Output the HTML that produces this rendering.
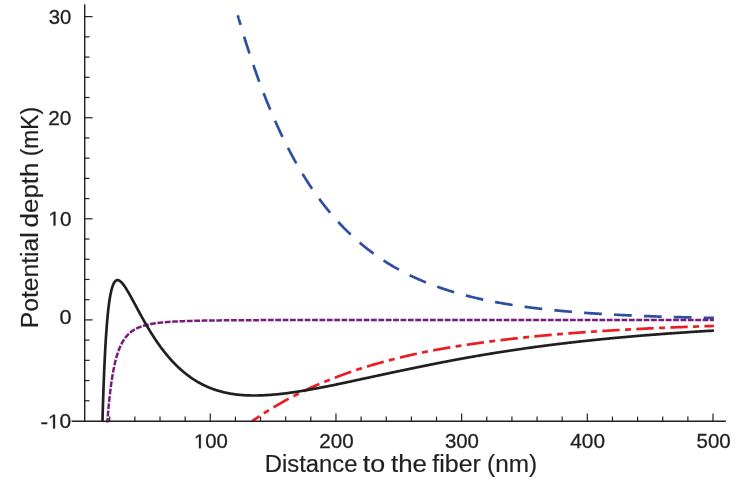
<!DOCTYPE html>
<html><head><meta charset="utf-8"><title>Potential depth</title>
<style>html,body{margin:0;padding:0;background:#fff;width:747px;height:479px;overflow:hidden}</style>
</head><body>
<svg width="747" height="479" viewBox="0 0 747 479" style="display:block;position:absolute;left:0;top:0">
<rect width="747" height="479" fill="#ffffff"/>
<g fill="none" stroke-linecap="butt" stroke-linejoin="round">
<path d="M237.81,15.42 L237.81,15.42 L237.82,15.44 L237.82,15.46 L237.83,15.49 L237.85,15.53 L237.86,15.58 L237.88,15.64 L237.90,15.71 L237.92,15.79 L237.94,15.88 L237.97,15.98 L238.00,16.08 L238.04,16.20 L238.07,16.32 L238.11,16.46 L238.15,16.60 L238.20,16.75 L238.24,16.91 L238.29,17.09 L238.34,17.27 L238.40,17.45 L238.45,17.65 L238.51,17.86 L238.58,18.07 L238.64,18.30 L238.71,18.53 L238.78,18.78 L238.85,19.03 L238.93,19.29 L239.01,19.56 L239.09,19.84 L239.17,20.13 L239.26,20.42 L239.35,20.73 L239.44,21.04 L239.53,21.36 L239.63,21.70 L239.73,22.04 L239.83,22.38 L239.94,22.74 L240.04,23.11 L240.15,23.48 L240.27,23.86 L240.38,24.26 L240.50,24.66 L240.62,25.06 L240.74,25.48 L240.87,25.91 L241.00,26.34 L241.13,26.78 L241.26,27.23 L241.40,27.69 L241.54,28.16 L241.68,28.63 L241.83,29.11 L241.97,29.60 L242.12,30.10 L242.28,30.61 L242.43,31.12 L242.59,31.64 L242.75,32.17 L242.91,32.71 L243.08,33.25 L243.25,33.81 L243.42,34.37 L243.59,34.94 L243.77,35.51 L243.95,36.09 L244.13,36.68 L244.31,37.28 L244.50,37.89 L244.69,38.50 L244.88,39.12 L245.08,39.74 L245.28,40.38 L245.48,41.02 L245.68,41.66 L245.88,42.32 L246.09,42.98 L246.30,43.65 L246.52,44.32 L246.73,45.00 L246.95,45.69 L247.17,46.38 L247.40,47.08 L247.63,47.79 L247.86,48.51 L248.09,49.23 L248.32,49.95 L248.56,50.68 L248.80,51.42 L249.04,52.17 L249.29,52.92 L249.54,53.67 L249.79,54.43 L250.04,55.20 L250.30,55.98 L250.56,56.75 L250.82,57.54 L251.08,58.33 L251.35,59.13 L251.62,59.93 L251.89,60.73 L252.16,61.55 L252.44,62.36 L252.72,63.18 L253.00,64.01 L253.29,64.84 L253.58,65.68 L253.87,66.52 L254.16,67.37 L254.46,68.22 L254.76,69.08 L255.06,69.94 L255.36,70.80 L255.67,71.67 L255.98,72.55 L256.29,73.42 L256.60,74.31 L256.92,75.19 L257.24,76.08 L257.56,76.98 L257.89,77.88 L258.21,78.78 L258.54,79.69 L258.88,80.60 L259.21,81.51 L259.55,82.43 L259.89,83.35 L260.24,84.27 L260.58,85.20 L260.93,86.13 L261.28,87.07 L261.64,88.00 L261.99,88.94 L262.35,89.89 L262.72,90.83 L263.08,91.78 L263.45,92.74 L263.82,93.69 L264.19,94.65 L264.57,95.61 L264.95,96.57 L265.33,97.54 L265.71,98.50 L266.10,99.47 L266.48,100.45 L266.88,101.42 L267.27,102.40 L267.67,103.38 L268.07,104.36 L268.47,105.34 L268.87,106.32 L269.28,107.31 L269.69,108.30 L270.10,109.29 L270.52,110.28 L270.94,111.27 L271.36,112.26 L271.78,113.26 L272.21,114.25 L272.63,115.25 L273.07,116.25 L273.50,117.25 L273.94,118.25 L274.38,119.25 L274.82,120.26 L275.26,121.26 L275.71,122.27 L276.16,123.27 L276.61,124.28 L277.07,125.28 L277.52,126.29 L277.98,127.30 L278.45,128.30 L278.91,129.31 L279.38,130.32 L279.85,131.33 L280.33,132.34 L280.80,133.35 L281.28,134.35 L281.76,135.36 L282.25,136.37 L282.74,137.38 L283.22,138.39 L283.72,139.39 L284.21,140.40 L284.71,141.41 L285.21,142.42 L285.71,143.42 L286.22,144.43 L286.73,145.43 L287.24,146.43 L287.75,147.44 L288.27,148.44 L288.79,149.44 L289.31,150.44 L289.83,151.44 L290.36,152.44 L290.89,153.44 L291.42,154.43 L291.95,155.43 L292.49,156.42 L293.03,157.41 L293.57,158.40 L294.12,159.39 L294.67,160.38 L295.22,161.37 L295.77,162.35 L296.33,163.34 L296.89,164.32 L297.45,165.30 L298.01,166.28 L298.58,167.25 L299.15,168.23 L299.72,169.20 L300.29,170.17 L300.87,171.14 L301.45,172.11 L302.03,173.07 L302.62,174.03 L303.21,174.99 L303.80,175.95 L304.39,176.91 L304.99,177.86 L305.58,178.81 L306.19,179.76 L306.79,180.71 L307.40,181.65 L308.00,182.59 L308.62,183.53 L309.23,184.47 L309.85,185.40 L310.47,186.34 L311.09,187.26 L311.71,188.19 L312.34,189.11 L312.97,190.03 L313.61,190.95 L314.24,191.86 L314.88,192.78 L315.52,193.68 L316.16,194.59 L316.81,195.49 L317.46,196.39 L318.11,197.29 L318.76,198.18 L319.42,199.07 L320.08,199.96 L320.74,200.85 L321.41,201.73 L322.07,202.60 L322.74,203.48 L323.42,204.35 L324.09,205.22 L324.77,206.08 L325.45,206.94 L326.13,207.80 L326.82,208.65 L327.51,209.51 L328.20,210.35 L328.89,211.20 L329.59,212.04 L330.29,212.87 L330.99,213.71 L331.70,214.54 L332.40,215.36 L333.11,216.19 L333.83,217.01 L334.54,217.82 L335.26,218.63 L335.98,219.44 L336.70,220.25 L337.43,221.05 L338.16,221.84 L338.89,222.64 L339.62,223.43 L340.36,224.21 L341.10,224.99 L341.84,225.77 L342.58,226.55 L343.33,227.32 L344.08,228.08 L344.83,228.85 L345.59,229.60 L346.35,230.36 L347.11,231.11 L347.87,231.86 L348.63,232.60 L349.40,233.34 L350.17,234.08 L350.95,234.81 L351.72,235.54 L352.50,236.26 L353.28,236.98 L354.07,237.69 L354.86,238.41 L355.64,239.11 L356.44,239.82 L357.23,240.52 L358.03,241.21 L358.83,241.91 L359.63,242.59 L360.44,243.28 L361.25,243.96 L362.06,244.63 L362.87,245.30 L363.69,245.97 L364.50,246.64 L365.33,247.30 L366.15,247.95 L366.98,248.60 L367.81,249.25 L368.64,249.89 L369.47,250.53 L370.31,251.17 L371.15,251.80 L371.99,252.43 L372.84,253.05 L373.69,253.67 L374.54,254.29 L375.39,254.90 L376.24,255.51 L377.10,256.11 L377.96,256.71 L378.83,257.31 L379.69,257.90 L380.56,258.49 L381.44,259.07 L382.31,259.65 L383.19,260.23 L384.07,260.80 L384.95,261.37 L385.83,261.93 L386.72,262.49 L387.61,263.05 L388.51,263.60 L389.40,264.15 L390.30,264.69 L391.20,265.23 L392.10,265.77 L393.01,266.30 L393.92,266.83 L394.83,267.35 L395.74,267.88 L396.66,268.39 L397.58,268.91 L398.50,269.42 L399.43,269.92 L400.36,270.42 L401.29,270.92 L402.22,271.42 L403.15,271.91 L404.09,272.40 L405.03,272.88 L405.98,273.36 L406.92,273.83 L407.87,274.31 L408.82,274.77 L409.78,275.24 L410.73,275.70 L411.69,276.16 L412.65,276.61 L413.62,277.06 L414.59,277.51 L415.56,277.95 L416.53,278.39 L417.50,278.83 L418.48,279.26 L419.46,279.69 L420.45,280.11 L421.43,280.54 L422.42,280.95 L423.41,281.37 L424.41,281.78 L425.40,282.19 L426.40,282.59 L427.40,282.99 L428.41,283.39 L429.41,283.79 L430.42,284.18 L431.44,284.56 L432.45,284.95 L433.47,285.33 L434.49,285.71 L435.51,286.08 L436.54,286.45 L437.57,286.82 L438.60,287.19 L439.63,287.55 L440.67,287.90 L441.71,288.26 L442.75,288.61 L443.79,288.96 L444.84,289.31 L445.89,289.65 L446.94,289.99 L448.00,290.32 L449.05,290.66 L450.11,290.99 L451.18,291.31 L452.24,291.64 L453.31,291.96 L454.38,292.28 L455.45,292.59 L456.53,292.90 L457.61,293.21 L458.69,293.52 L459.77,293.82 L460.86,294.12 L461.95,294.42 L463.04,294.72 L464.14,295.01 L465.23,295.30 L466.33,295.58 L467.44,295.87 L468.54,296.15 L469.65,296.43 L470.76,296.70 L471.87,296.98 L472.99,297.25 L474.11,297.51 L475.23,297.78 L476.35,298.04 L477.48,298.30 L478.61,298.56 L479.74,298.81 L480.88,299.06 L482.01,299.31 L483.15,299.56 L484.30,299.81 L485.44,300.05 L486.59,300.29 L487.74,300.52 L488.89,300.76 L490.05,300.99 L491.21,301.22 L492.37,301.45 L493.53,301.67 L494.70,301.90 L495.87,302.12 L497.04,302.34 L498.21,302.55 L499.39,302.77 L500.57,302.98 L501.75,303.19 L502.94,303.39 L504.12,303.60 L505.31,303.80 L506.51,304.00 L507.70,304.20 L508.90,304.40 L510.10,304.59 L511.30,304.78 L512.51,304.97 L513.72,305.16 L514.93,305.35 L516.14,305.53 L517.36,305.71 L518.58,305.89 L519.80,306.07 L521.03,306.24 L522.26,306.42 L523.49,306.59 L524.72,306.76 L525.95,306.93 L527.19,307.10 L528.43,307.26 L529.68,307.42 L530.92,307.58 L532.17,307.74 L533.42,307.90 L534.67,308.06 L535.93,308.21 L537.19,308.36 L538.45,308.51 L539.72,308.66 L540.98,308.81 L542.25,308.95 L543.53,309.10 L544.80,309.24 L546.08,309.38 L547.36,309.52 L548.64,309.65 L549.93,309.79 L551.22,309.92 L552.51,310.06 L553.80,310.19 L555.10,310.32 L556.40,310.44 L557.70,310.57 L559.00,310.69 L560.31,310.82 L561.62,310.94 L562.93,311.06 L564.25,311.18 L565.56,311.30 L566.89,311.41 L568.21,311.53 L569.53,311.64 L570.86,311.75 L572.19,311.86 L573.53,311.97 L574.86,312.08 L576.20,312.19 L577.54,312.29 L578.89,312.40 L580.23,312.50 L581.58,312.60 L582.94,312.70 L584.29,312.80 L585.65,312.90 L587.01,312.99 L588.37,313.09 L589.74,313.18 L591.10,313.28 L592.47,313.37 L593.85,313.46 L595.22,313.55 L596.60,313.64 L597.98,313.72 L599.37,313.81 L600.75,313.90 L602.14,313.98 L603.53,314.06 L604.93,314.15 L606.33,314.23 L607.73,314.31 L609.13,314.38 L610.53,314.46 L611.94,314.54 L613.35,314.62 L614.77,314.69 L616.18,314.76 L617.60,314.84 L619.02,314.91 L620.44,314.98 L621.87,315.05 L623.30,315.12 L624.73,315.19 L626.17,315.26 L627.60,315.32 L629.04,315.39 L630.49,315.45 L631.93,315.52 L633.38,315.58 L634.83,315.64 L636.28,315.71 L637.74,315.77 L639.20,315.83 L640.66,315.89 L642.12,315.94 L643.59,316.00 L645.05,316.06 L646.53,316.11 L648.00,316.17 L649.48,316.22 L650.96,316.28 L652.44,316.33 L653.92,316.38 L655.41,316.44 L656.90,316.49 L658.39,316.54 L659.89,316.59 L661.39,316.64 L662.89,316.68 L664.39,316.73 L665.90,316.78 L667.41,316.83 L668.92,316.87 L670.43,316.92 L671.95,316.96 L673.47,317.00 L674.99,317.05 L676.51,317.09 L678.04,317.13 L679.57,317.17 L681.10,317.22 L682.64,317.26 L684.18,317.30 L685.72,317.33 L687.26,317.37 L688.81,317.41 L690.35,317.45 L691.91,317.49 L693.46,317.52 L695.02,317.56 L696.57,317.59 L698.14,317.63 L699.70,317.66 L701.27,317.70 L702.84,317.73 L704.41,317.76 L705.99,317.80 L707.56,317.83 L709.14,317.86 L710.73,317.89 L712.31,317.92 L713.90,317.95" stroke="#2e4ea1" stroke-width="2.7" stroke-dasharray="17.8 12.12" stroke-dashoffset="7.85"/>
<path d="M252.44,420.99 L252.44,420.99 L252.45,420.99 L252.45,420.98 L252.46,420.98 L252.47,420.97 L252.49,420.96 L252.51,420.95 L252.53,420.93 L252.55,420.92 L252.57,420.90 L252.60,420.88 L252.63,420.86 L252.66,420.84 L252.69,420.81 L252.73,420.79 L252.77,420.76 L252.81,420.73 L252.86,420.70 L252.91,420.67 L252.96,420.63 L253.01,420.59 L253.07,420.56 L253.12,420.52 L253.18,420.47 L253.25,420.43 L253.31,420.38 L253.38,420.34 L253.45,420.29 L253.52,420.24 L253.60,420.18 L253.68,420.13 L253.76,420.07 L253.84,420.02 L253.93,419.96 L254.02,419.90 L254.11,419.83 L254.20,419.77 L254.30,419.70 L254.40,419.63 L254.50,419.56 L254.60,419.49 L254.71,419.42 L254.82,419.34 L254.93,419.27 L255.05,419.19 L255.16,419.11 L255.28,419.03 L255.41,418.94 L255.53,418.86 L255.66,418.77 L255.79,418.68 L255.92,418.59 L256.06,418.50 L256.19,418.41 L256.33,418.31 L256.48,418.21 L256.62,418.11 L256.77,418.01 L256.92,417.91 L257.07,417.81 L257.23,417.70 L257.39,417.60 L257.55,417.49 L257.71,417.38 L257.88,417.27 L258.05,417.16 L258.22,417.04 L258.39,416.92 L258.57,416.81 L258.74,416.69 L258.93,416.57 L259.11,416.44 L259.30,416.32 L259.49,416.19 L259.68,416.07 L259.87,415.94 L260.07,415.81 L260.27,415.68 L260.47,415.54 L260.67,415.41 L260.88,415.27 L261.09,415.14 L261.30,415.00 L261.52,414.86 L261.73,414.71 L261.95,414.57 L262.18,414.43 L262.40,414.28 L262.63,414.13 L262.86,413.98 L263.09,413.83 L263.33,413.68 L263.57,413.53 L263.81,413.37 L264.05,413.22 L264.30,413.06 L264.54,412.90 L264.79,412.74 L265.05,412.58 L265.30,412.41 L265.56,412.25 L265.82,412.09 L266.09,411.92 L266.35,411.75 L266.62,411.58 L266.89,411.41 L267.17,411.24 L267.44,411.06 L267.72,410.89 L268.00,410.71 L268.29,410.54 L268.58,410.36 L268.87,410.18 L269.16,410.00 L269.45,409.82 L269.75,409.63 L270.05,409.45 L270.35,409.26 L270.66,409.08 L270.96,408.89 L271.27,408.70 L271.59,408.51 L271.90,408.32 L272.22,408.13 L272.54,407.93 L272.86,407.74 L273.19,407.54 L273.51,407.35 L273.84,407.15 L274.18,406.95 L274.51,406.75 L274.85,406.55 L275.19,406.35 L275.54,406.15 L275.88,405.94 L276.23,405.74 L276.58,405.53 L276.94,405.32 L277.29,405.12 L277.65,404.91 L278.01,404.70 L278.38,404.49 L278.74,404.28 L279.11,404.06 L279.48,403.85 L279.86,403.64 L280.23,403.42 L280.61,403.20 L281.00,402.99 L281.38,402.77 L281.77,402.55 L282.16,402.33 L282.55,402.11 L282.94,401.89 L283.34,401.67 L283.74,401.45 L284.14,401.22 L284.55,401.00 L284.96,400.77 L285.37,400.55 L285.78,400.32 L286.20,400.09 L286.61,399.86 L287.03,399.64 L287.46,399.41 L287.88,399.18 L288.31,398.95 L288.74,398.71 L289.18,398.48 L289.61,398.25 L290.05,398.02 L290.49,397.78 L290.93,397.55 L291.38,397.31 L291.83,397.08 L292.28,396.84 L292.74,396.60 L293.19,396.37 L293.65,396.13 L294.11,395.89 L294.58,395.65 L295.04,395.41 L295.51,395.17 L295.99,394.93 L296.46,394.69 L296.94,394.45 L297.42,394.21 L297.90,393.96 L298.38,393.72 L298.87,393.48 L299.36,393.23 L299.85,392.99 L300.35,392.75 L300.85,392.50 L301.35,392.26 L301.85,392.01 L302.36,391.76 L302.86,391.52 L303.37,391.27 L303.89,391.02 L304.40,390.78 L304.92,390.53 L305.44,390.28 L305.97,390.03 L306.49,389.78 L307.02,389.53 L307.55,389.29 L308.08,389.04 L308.62,388.79 L309.16,388.54 L309.70,388.29 L310.25,388.04 L310.79,387.79 L311.34,387.53 L311.89,387.28 L312.45,387.03 L313.00,386.78 L313.56,386.53 L314.13,386.28 L314.69,386.03 L315.26,385.78 L315.83,385.52 L316.40,385.27 L316.97,385.02 L317.55,384.77 L318.13,384.52 L318.71,384.26 L319.30,384.01 L319.89,383.76 L320.48,383.51 L321.07,383.25 L321.67,383.00 L322.26,382.75 L322.86,382.50 L323.47,382.24 L324.07,381.99 L324.68,381.74 L325.29,381.49 L325.91,381.23 L326.52,380.98 L327.14,380.73 L327.76,380.48 L328.39,380.23 L329.01,379.97 L329.64,379.72 L330.27,379.47 L330.91,379.22 L331.54,378.97 L332.18,378.72 L332.82,378.46 L333.47,378.21 L334.12,377.96 L334.77,377.71 L335.42,377.46 L336.07,377.21 L336.73,376.96 L337.39,376.71 L338.05,376.46 L338.72,376.21 L339.38,375.96 L340.05,375.71 L340.73,375.46 L341.40,375.21 L342.08,374.96 L342.76,374.72 L343.44,374.47 L344.13,374.22 L344.82,373.97 L345.51,373.73 L346.20,373.48 L346.90,373.23 L347.59,372.99 L348.30,372.74 L349.00,372.49 L349.70,372.25 L350.41,372.00 L351.12,371.76 L351.84,371.52 L352.55,371.27 L353.27,371.03 L354.00,370.78 L354.72,370.54 L355.45,370.30 L356.18,370.06 L356.91,369.82 L357.64,369.57 L358.38,369.33 L359.12,369.09 L359.86,368.85 L360.60,368.61 L361.35,368.37 L362.10,368.14 L362.85,367.90 L363.61,367.66 L364.37,367.42 L365.13,367.18 L365.89,366.95 L366.65,366.71 L367.42,366.48 L368.19,366.24 L368.97,366.01 L369.74,365.77 L370.52,365.54 L371.30,365.31 L372.08,365.07 L372.87,364.84 L373.66,364.61 L374.45,364.38 L375.24,364.15 L376.04,363.92 L376.84,363.69 L377.64,363.46 L378.44,363.23 L379.25,363.01 L380.06,362.78 L380.87,362.55 L381.68,362.33 L382.50,362.10 L383.32,361.88 L384.14,361.65 L384.96,361.43 L385.79,361.20 L386.62,360.98 L387.45,360.76 L388.29,360.54 L389.13,360.32 L389.97,360.10 L390.81,359.88 L391.65,359.66 L392.50,359.44 L393.35,359.22 L394.20,359.01 L395.06,358.79 L395.92,358.57 L396.78,358.36 L397.64,358.15 L398.50,357.93 L399.37,357.72 L400.24,357.51 L401.12,357.29 L401.99,357.08 L402.87,356.87 L403.75,356.66 L404.64,356.45 L405.52,356.25 L406.41,356.04 L407.30,355.83 L408.20,355.62 L409.09,355.42 L409.99,355.21 L410.89,355.01 L411.80,354.80 L412.70,354.60 L413.61,354.40 L414.52,354.20 L415.44,354.00 L416.36,353.80 L417.28,353.60 L418.20,353.40 L419.12,353.20 L420.05,353.00 L420.98,352.81 L421.91,352.62 L422.85,352.43 L423.78,352.24 L424.72,352.05 L425.67,351.86 L426.61,351.67 L427.56,351.49 L428.51,351.30 L429.46,351.12 L430.42,350.93 L431.38,350.75 L432.34,350.56 L433.30,350.38 L434.27,350.20 L435.24,350.02 L436.21,349.84 L437.18,349.66 L438.16,349.48 L439.14,349.30 L440.12,349.13 L441.10,348.95 L442.09,348.77 L443.08,348.60 L444.07,348.42 L445.06,348.25 L446.06,348.08 L447.06,347.91 L448.06,347.74 L449.06,347.56 L450.07,347.40 L451.08,347.23 L452.09,347.06 L453.11,346.89 L454.13,346.72 L455.15,346.56 L456.17,346.39 L457.19,346.23 L458.22,346.07 L459.25,345.90 L460.28,345.74 L461.32,345.58 L462.36,345.42 L463.40,345.26 L464.44,345.10 L465.49,344.94 L466.53,344.79 L467.58,344.63 L468.64,344.47 L469.69,344.32 L470.75,344.16 L471.81,344.01 L472.88,343.86 L473.94,343.71 L475.01,343.55 L476.08,343.40 L477.16,343.25 L478.23,343.10 L479.31,342.96 L480.39,342.81 L481.48,342.65 L482.56,342.50 L483.65,342.35 L484.75,342.20 L485.84,342.05 L486.94,341.91 L488.04,341.76 L489.14,341.61 L490.24,341.46 L491.35,341.32 L492.46,341.17 L493.57,341.03 L494.69,340.89 L495.81,340.74 L496.93,340.60 L498.05,340.46 L499.18,340.32 L500.30,340.18 L501.43,340.04 L502.57,339.90 L503.70,339.77 L504.84,339.63 L505.98,339.49 L507.12,339.36 L508.27,339.23 L509.42,339.09 L510.57,338.96 L511.72,338.83 L512.88,338.69 L514.04,338.56 L515.20,338.43 L516.36,338.30 L517.53,338.17 L518.70,338.05 L519.87,337.92 L521.05,337.79 L522.22,337.67 L523.40,337.54 L524.58,337.42 L525.77,337.29 L526.96,337.17 L528.14,337.05 L529.34,336.93 L530.53,336.80 L531.73,336.68 L532.93,336.56 L534.13,336.45 L535.34,336.33 L536.54,336.21 L537.75,336.09 L538.97,335.98 L540.18,335.86 L541.40,335.75 L542.62,335.63 L543.84,335.52 L545.07,335.40 L546.30,335.29 L547.53,335.18 L548.76,335.07 L550.00,334.96 L551.24,334.85 L552.48,334.74 L553.72,334.63 L554.97,334.53 L556.22,334.42 L557.47,334.31 L558.72,334.21 L559.98,334.10 L561.24,334.00 L562.50,333.89 L563.76,333.79 L565.03,333.69 L566.30,333.58 L567.57,333.48 L568.85,333.38 L570.12,333.28 L571.40,333.18 L572.69,333.08 L573.97,332.99 L575.26,332.89 L576.55,332.79 L577.84,332.70 L579.14,332.60 L580.43,332.51 L581.73,332.41 L583.04,332.32 L584.34,332.22 L585.65,332.13 L586.96,332.04 L588.27,331.95 L589.59,331.86 L590.91,331.77 L592.23,331.68 L593.55,331.59 L594.88,331.50 L596.21,331.41 L597.54,331.32 L598.87,331.24 L600.21,331.15 L601.55,331.06 L602.89,330.98 L604.23,330.89 L605.58,330.81 L606.93,330.73 L608.28,330.64 L609.63,330.56 L610.99,330.48 L612.35,330.40 L613.71,330.32 L615.08,330.24 L616.44,330.16 L617.81,330.08 L619.18,330.00 L620.56,329.92 L621.94,329.85 L623.32,329.77 L624.70,329.69 L626.08,329.62 L627.47,329.54 L628.86,329.47 L630.26,329.39 L631.65,329.32 L633.05,329.24 L634.45,329.17 L635.85,329.10 L637.26,329.03 L638.67,328.96 L640.08,328.89 L641.49,328.81 L642.91,328.75 L644.33,328.68 L645.75,328.61 L647.17,328.54 L648.60,328.47 L650.03,328.40 L651.46,328.34 L652.89,328.27 L654.33,328.20 L655.77,328.14 L657.21,328.07 L658.65,328.01 L660.10,327.95 L661.55,327.88 L663.00,327.82 L664.46,327.76 L665.91,327.69 L667.37,327.63 L668.83,327.57 L670.30,327.51 L671.77,327.45 L673.24,327.39 L674.71,327.33 L676.18,327.27 L677.66,327.21 L679.14,327.15 L680.63,327.10 L682.11,327.04 L683.60,326.98 L685.09,326.92 L686.58,326.87 L688.08,326.81 L689.58,326.76 L691.08,326.70 L692.58,326.65 L694.09,326.59 L695.60,326.54 L697.11,326.49 L698.62,326.43 L700.14,326.38 L701.66,326.33 L703.18,326.28 L704.70,326.23 L706.23,326.18 L707.76,326.13 L709.29,326.07 L710.82,326.03 L712.36,325.98 L713.90,325.93" stroke="#ed1c24" stroke-width="2.7" stroke-dasharray="17.4 5.38 5.9 5.39" stroke-dashoffset="8.9"/>
<path d="M107.32,422.61 L107.32,422.60 L107.32,422.58 L107.32,422.56 L107.32,422.52 L107.33,422.46 L107.33,422.40 L107.34,422.33 L107.34,422.24 L107.35,422.15 L107.36,422.04 L107.37,421.92 L107.38,421.79 L107.39,421.65 L107.40,421.49 L107.41,421.33 L107.43,421.16 L107.44,420.97 L107.45,420.78 L107.47,420.57 L107.49,420.35 L107.50,420.12 L107.52,419.89 L107.54,419.64 L107.56,419.38 L107.58,419.11 L107.60,418.83 L107.62,418.55 L107.65,418.25 L107.67,417.94 L107.70,417.62 L107.72,417.30 L107.75,416.96 L107.78,416.62 L107.80,416.27 L107.83,415.90 L107.86,415.53 L107.89,415.15 L107.93,414.77 L107.96,414.37 L107.99,413.97 L108.03,413.56 L108.06,413.14 L108.10,412.71 L108.13,412.28 L108.17,411.84 L108.21,411.39 L108.25,410.94 L108.29,410.47 L108.33,410.01 L108.37,409.53 L108.41,409.05 L108.46,408.57 L108.50,408.07 L108.55,407.58 L108.59,407.07 L108.64,406.56 L108.69,406.05 L108.74,405.53 L108.79,405.01 L108.84,404.48 L108.89,403.95 L108.94,403.41 L108.99,402.87 L109.05,402.33 L109.10,401.78 L109.16,401.23 L109.21,400.67 L109.27,400.11 L109.33,399.55 L109.38,398.99 L109.44,398.42 L109.50,397.85 L109.57,397.28 L109.63,396.71 L109.69,396.13 L109.75,395.55 L109.82,394.97 L109.88,394.39 L109.95,393.81 L110.02,393.23 L110.09,392.64 L110.15,392.06 L110.22,391.47 L110.29,390.88 L110.37,390.29 L110.44,389.71 L110.51,389.12 L110.58,388.53 L110.66,387.94 L110.73,387.35 L110.81,386.77 L110.89,386.18 L110.97,385.59 L111.05,385.00 L111.13,384.42 L111.21,383.83 L111.29,383.25 L111.37,382.67 L111.45,382.09 L111.54,381.51 L111.62,380.93 L111.71,380.35 L111.79,379.78 L111.88,379.20 L111.97,378.63 L112.06,378.06 L112.15,377.50 L112.24,376.93 L112.33,376.37 L112.42,375.81 L112.52,375.25 L112.61,374.69 L112.70,374.14 L112.80,373.59 L112.90,373.04 L112.99,372.50 L113.09,371.95 L113.19,371.41 L113.29,370.88 L113.39,370.34 L113.49,369.81 L113.60,369.28 L113.70,368.76 L113.80,368.24 L113.91,367.72 L114.02,367.21 L114.12,366.69 L114.23,366.19 L114.34,365.68 L114.45,365.18 L114.56,364.68 L114.67,364.19 L114.78,363.70 L114.89,363.21 L115.01,362.73 L115.12,362.25 L115.24,361.77 L115.35,361.30 L115.47,360.83 L115.59,360.37 L115.71,359.91 L115.83,359.45 L115.95,359.00 L116.07,358.55 L116.19,358.10 L116.31,357.66 L116.43,357.22 L116.56,356.79 L116.68,356.36 L116.81,355.93 L116.94,355.51 L117.07,355.09 L117.19,354.67 L117.32,354.26 L117.45,353.85 L117.59,353.45 L117.72,353.05 L117.85,352.65 L117.98,352.26 L118.12,351.87 L118.25,351.49 L118.39,351.11 L118.53,350.73 L118.67,350.36 L118.80,349.99 L118.94,349.62 L119.08,349.26 L119.23,348.90 L119.37,348.55 L119.51,348.20 L119.66,347.85 L119.80,347.51 L119.95,347.17 L120.09,346.83 L120.24,346.50 L120.39,346.17 L120.54,345.85 L120.69,345.52 L120.84,345.21 L120.99,344.89 L121.14,344.58 L121.29,344.27 L121.45,343.97 L121.60,343.67 L121.76,343.37 L121.91,343.08 L122.07,342.78 L122.23,342.50 L122.39,342.21 L122.55,341.93 L122.71,341.65 L122.87,341.38 L123.03,341.11 L123.20,340.84 L123.36,340.58 L123.53,340.31 L123.69,340.06 L123.86,339.80 L124.03,339.55 L124.19,339.30 L124.36,339.05 L124.53,338.81 L124.70,338.57 L124.88,338.33 L125.05,338.09 L125.22,337.86 L125.40,337.63 L125.57,337.41 L125.75,337.18 L125.92,336.96 L126.10,336.74 L126.28,336.53 L126.46,336.32 L126.64,336.11 L126.82,335.90 L127.00,335.69 L127.19,335.49 L127.37,335.29 L127.55,335.09 L127.74,334.90 L127.93,334.71 L128.11,334.52 L128.30,334.33 L128.49,334.14 L128.68,333.96 L128.87,333.78 L129.06,333.60 L129.25,333.43 L129.44,333.25 L129.64,333.08 L129.83,332.91 L130.03,332.74 L130.22,332.58 L130.42,332.42 L130.62,332.26 L130.82,332.10 L131.02,331.94 L131.22,331.79 L131.42,331.63 L131.62,331.48 L131.82,331.33 L132.03,331.19 L132.23,331.04 L132.44,330.90 L132.64,330.76 L132.85,330.62 L133.06,330.48 L133.27,330.35 L133.48,330.21 L133.69,330.08 L133.90,329.95 L134.11,329.82 L134.33,329.69 L134.54,329.57 L134.75,329.44 L134.97,329.32 L135.19,329.20 L135.40,329.08 L135.62,328.97 L135.84,328.85 L136.06,328.74 L136.28,328.62 L136.50,328.51 L136.72,328.40 L136.95,328.29 L137.17,328.19 L137.40,328.08 L137.62,327.98 L137.85,327.87 L138.08,327.77 L138.30,327.67 L138.53,327.57 L138.76,327.48 L138.99,327.38 L139.23,327.29 L139.46,327.19 L139.69,327.10 L139.93,327.01 L140.16,326.92 L140.40,326.83 L140.63,326.74 L140.87,326.66 L141.11,326.57 L141.35,326.49 L141.59,326.41 L141.83,326.32 L142.07,326.24 L142.31,326.16 L142.56,326.08 L142.80,326.01 L143.05,325.93 L143.29,325.86 L143.54,325.78 L143.79,325.71 L144.04,325.63 L144.29,325.56 L144.54,325.49 L144.79,325.42 L145.04,325.35 L145.29,325.29 L145.55,325.22 L145.80,325.15 L146.06,325.09 L146.31,325.02 L146.57,324.96 L146.83,324.90 L147.08,324.84 L147.34,324.77 L147.60,324.71 L147.87,324.66 L148.13,324.60 L148.39,324.54 L148.65,324.48 L148.92,324.43 L149.18,324.37 L149.45,324.31 L149.72,324.26 L149.99,324.21 L150.25,324.15 L150.52,324.10 L150.79,324.05 L151.07,324.00 L151.34,323.95 L151.61,323.90 L151.88,323.85 L152.16,323.80 L152.43,323.76 L152.71,323.71 L152.99,323.66 L153.27,323.62 L153.55,323.57 L153.83,323.53 L154.11,323.49 L154.39,323.44 L154.67,323.40 L154.95,323.36 L155.24,323.32 L155.52,323.28 L155.81,323.23 L156.09,323.20 L156.38,323.16 L156.67,323.12 L156.96,323.08 L157.25,323.04 L157.54,323.00 L157.83,322.97 L158.12,322.93 L158.42,322.89 L158.71,322.86 L159.00,322.82 L159.30,322.79 L159.60,322.75 L159.89,322.72 L160.19,322.69 L160.49,322.65 L160.79,322.62 L161.09,322.59 L161.39,322.56 L161.70,322.53 L162.00,322.50 L162.30,322.47 L162.61,322.44 L162.92,322.41 L163.22,322.38 L163.53,322.35 L163.84,322.32 L164.15,322.29 L164.46,322.26 L164.77,322.24 L165.08,322.21 L165.39,322.18 L165.71,322.16 L166.02,322.13 L166.34,322.11 L166.65,322.08 L166.97,322.05 L167.29,322.03 L167.61,322.01 L167.93,321.98 L168.25,321.96 L168.57,321.93 L168.89,321.91 L169.21,321.89 L169.53,321.87 L169.86,321.84 L170.18,321.82 L170.51,321.80 L170.84,321.78 L171.17,321.76 L171.49,321.74 L171.82,321.71 L172.15,321.69 L172.49,321.67 L172.82,321.65 L173.15,321.63 L173.48,321.61 L173.82,321.60 L174.15,321.58 L174.49,321.56 L174.83,321.54 L175.17,321.52 L175.50,321.50 L175.84,321.49 L176.18,321.47 L176.53,321.45 L176.87,321.43 L177.21,321.42 L177.56,321.40 L177.90,321.38 L178.25,321.37 L178.59,321.35 L178.94,321.33 L179.29,321.32 L179.64,321.30 L179.99,321.29 L180.34,321.27 L180.69,321.26 L181.04,321.24 L181.39,321.23 L181.75,321.21 L182.10,321.20 L182.46,321.18 L182.81,321.17 L183.17,321.16 L183.53,321.14 L183.89,321.13 L184.25,321.12 L184.61,321.10 L184.97,321.09 L185.33,321.08 L185.70,321.07 L186.06,321.05 L186.43,321.04 L186.79,321.03 L187.16,321.02 L187.53,321.00 L187.89,320.99 L188.26,320.98 L188.63,320.97 L189.00,320.96 L189.38,320.95 L189.75,320.94 L190.12,320.92 L190.50,320.91 L190.87,320.90 L191.25,320.89 L191.62,320.88 L192.00,320.87 L192.38,320.86 L192.76,320.85 L193.14,320.84 L193.52,320.83 L193.90,320.82 L194.29,320.81 L194.67,320.80 L195.05,320.79 L195.44,320.78 L195.83,320.78 L196.21,320.77 L196.60,320.76 L196.99,320.75 L197.38,320.74 L197.77,320.73 L198.16,320.72 L198.55,320.71 L198.94,320.71 L199.34,320.70 L199.73,320.69 L200.13,320.68 L200.52,320.67 L200.92,320.67 L201.32,320.66 L201.72,320.65 L202.12,320.64 L202.52,320.63 L202.92,320.63 L203.32,320.62 L203.72,320.61 L204.13,320.61 L204.53,320.60 L204.94,320.59 L205.34,320.58 L205.75,320.58 L206.16,320.57 L206.57,320.56 L206.98,320.56 L207.39,320.55 L207.80,320.54 L208.21,320.54 L208.63,320.53 L209.04,320.52 L209.45,320.52 L209.87,320.51 L210.29,320.51 L210.70,320.50 L211.12,320.49 L211.54,320.49 L211.96,320.48 L212.38,320.48 L212.80,320.47 L213.22,320.47 L213.65,320.46 L214.07,320.45 L214.50,320.45 L214.92,320.44 L215.35,320.44 L215.78,320.43 L216.20,320.43 L216.63,320.42 L217.06,320.42 L217.49,320.41 L217.93,320.41 L218.36,320.40 L218.79,320.40 L219.23,320.39 L219.66,320.39 L220.10,320.38 L220.53,320.38 L220.97,320.37 L221.41,320.37 L221.85,320.37 L222.29,320.36 L222.73,320.36 L223.17,320.35 L223.61,320.35 L224.06,320.34 L224.50,320.34 L224.95,320.34 L225.39,320.33 L225.84,320.33 L226.29,320.32 L226.74,320.32 L227.19,320.32 L227.64,320.31 L228.09,320.31 L228.54,320.30 L228.99,320.30 L229.45,320.30 L229.90,320.29 L230.36,320.29 L230.81,320.29 L231.27,320.28 L231.73,320.28 L232.18,320.27 L232.64,320.27 L233.10,320.27 L233.57,320.26 L234.03,320.26 L234.49,320.26 L234.95,320.25 L235.42,320.25 L235.88,320.25 L236.35,320.24 L236.82,320.24 L237.29,320.24 L237.75,320.24 L238.22,320.23 L238.69,320.23 L239.17,320.23 L239.64,320.22 L240.11,320.22 L240.58,320.22 L241.06,320.21 L241.53,320.21 L242.01,320.21 L242.49,320.21 L242.97,320.20 L243.45,320.20 L243.93,320.20 L244.41,320.20 L244.89,320.19 L245.37,320.19 L245.85,320.19 L246.34,320.18 L246.82,320.18 L247.31,320.18 L247.79,320.18 L248.28,320.17 L248.77,320.17 L249.26,320.17 L249.75,320.17 L250.24,320.16 L250.73,320.16 L251.22,320.16 L251.72,320.16 L252.21,320.16 L252.70,320.15 L253.20,320.15 L253.70,320.15 L254.19,320.15 L254.69,320.14 L255.19,320.14 L255.69,320.14 L256.19,320.14 L256.69,320.14 L257.20,320.13 L257.70,320.13 L258.20,320.13 L258.71,320.13 L259.22,320.13 L259.72,320.12 L260.23,320.12 L260.74,320.12 L261.25,320.12 L261.76,320.12 L262.27,320.11 L262.78,320.11 L263.29,320.11 L263.81,320.11 L264.32,320.11 L264.84,320.11 L265.35,320.10 L265.87,320.10 L266.39,320.10 L266.91,320.10 L267.43,320.10 L267.95,320.10 L268.47,320.09 L268.99,320.09 L269.51,320.09 L270.03,320.09 L270.56,320.09 L271.08,320.09 L271.61,320.08 L272.14,320.08 L272.67,320.08 L273.19,320.08 L273.72,320.08 L274.25,320.08 L274.79,320.08 L275.32,320.07 L275.85,320.07 L276.38,320.07 L276.92,320.07 L277.45,320.07 L277.99,320.07 L278.53,320.07 L279.07,320.06 L279.60,320.06 L280.14,320.06 L280.68,320.06 L281.23,320.06 L281.77,320.06 L282.31,320.06 L282.86,320.05 L283.40,320.05 L283.95,320.05 L284.49,320.05 L285.04,320.05 L285.59,320.05 L286.14,320.05 L286.69,320.05 L287.24,320.04 L287.79,320.04 L288.34,320.04 L288.89,320.04 L289.45,320.04 L290.00,320.04 L290.56,320.04 L291.11,320.04 L291.67,320.04 L292.23,320.03 L292.79,320.03 L293.35,320.03 L293.91,320.03 L294.47,320.03 L295.03,320.03 L295.60,320.03 L296.16,320.03 L296.73,320.03 L297.29,320.03 L297.86,320.02 L298.43,320.02 L298.99,320.02 L299.56,320.02 L300.13,320.02 L300.70,320.02 L301.28,320.02 L301.85,320.02 L302.42,320.02 L303.00,320.02 L303.57,320.01 L304.15,320.01 L304.72,320.01 L305.30,320.01 L305.88,320.01 L306.46,320.01 L307.04,320.01 L307.62,320.01 L308.20,320.01 L308.79,320.01 L309.37,320.01 L309.95,320.01 L310.54,320.00 L311.13,320.00 L311.71,320.00 L312.30,320.00 L312.89,320.00 L313.48,320.00 L314.07,320.00 L314.66,320.00 L315.25,320.00 L315.84,320.00 L316.44,320.00 L317.03,320.00 L317.63,320.00 L318.22,319.99 L318.82,319.99 L319.42,319.99 L320.02,319.99 L320.62,319.99 L321.22,319.99 L321.82,319.99 L322.42,319.99 L323.02,319.99 L323.63,319.99 L324.23,319.99 L324.84,319.99 L325.44,319.99 L326.05,319.99 L326.66,319.98 L327.27,319.98 L327.88,319.98 L328.49,319.98 L329.10,319.98 L329.71,319.98 L330.33,319.98 L330.94,319.98 L331.55,319.98 L332.17,319.98 L332.79,319.98 L333.40,319.98 L334.02,319.98 L334.64,319.98 L335.26,319.98 L335.88,319.98 L336.50,319.98 L337.12,319.97 L337.75,319.97 L338.37,319.97 L339.00,319.97 L339.62,319.97 L340.25,319.97 L340.88,319.97 L341.50,319.97 L342.13,319.97 L342.76,319.97 L343.39,319.97 L344.03,319.97 L344.66,319.97 L345.29,319.97 L345.93,319.97 L346.56,319.97 L347.20,319.97 L347.83,319.97 L348.47,319.97 L349.11,319.97 L349.75,319.96 L350.39,319.96 L351.03,319.96 L351.67,319.96 L352.31,319.96 L352.96,319.96 L353.60,319.96 L354.25,319.96 L354.89,319.96 L355.54,319.96 L356.19,319.96 L356.84,319.96 L357.49,319.96 L358.14,319.96 L358.79,319.96 L359.44,319.96 L360.09,319.96 L360.75,319.96 L361.40,319.96 L362.06,319.96 L362.71,319.96 L363.37,319.96 L364.03,319.96 L364.68,319.95 L365.34,319.95 L366.00,319.95 L366.67,319.95 L367.33,319.95 L367.99,319.95 L368.65,319.95 L369.32,319.95 L369.98,319.95 L370.65,319.95 L371.32,319.95 L371.99,319.95 L372.65,319.95 L373.32,319.95 L373.99,319.95 L374.67,319.95 L375.34,319.95 L376.01,319.95 L376.68,319.95 L377.36,319.95 L378.03,319.95 L378.71,319.95 L379.39,319.95 L380.07,319.95 L380.75,319.95 L381.43,319.95 L382.11,319.95 L382.79,319.95 L383.47,319.95 L384.15,319.94 L384.84,319.94 L385.52,319.94 L386.21,319.94 L386.89,319.94 L387.58,319.94 L388.27,319.94 L388.96,319.94 L389.65,319.94 L390.34,319.94 L391.03,319.94 L391.72,319.94 L392.42,319.94 L393.11,319.94 L393.80,319.94 L394.50,319.94 L395.20,319.94 L395.89,319.94 L396.59,319.94 L397.29,319.94 L397.99,319.94 L398.69,319.94 L399.39,319.94 L400.10,319.94 L400.80,319.94 L401.50,319.94 L402.21,319.94 L402.92,319.94 L403.62,319.94 L404.33,319.94 L405.04,319.94 L405.75,319.94 L406.46,319.94 L407.17,319.94 L407.88,319.94 L408.59,319.94 L409.31,319.94 L410.02,319.93 L410.74,319.93 L411.45,319.93 L412.17,319.93 L412.89,319.93 L413.61,319.93 L414.33,319.93 L415.05,319.93 L415.77,319.93 L416.49,319.93 L417.21,319.93 L417.93,319.93 L418.66,319.93 L419.38,319.93 L420.11,319.93 L420.84,319.93 L421.57,319.93 L422.29,319.93 L423.02,319.93 L423.75,319.93 L424.49,319.93 L425.22,319.93 L425.95,319.93 L426.68,319.93 L427.42,319.93 L428.15,319.93 L428.89,319.93 L429.63,319.93 L430.37,319.93 L431.10,319.93 L431.84,319.93 L432.58,319.93 L433.33,319.93 L434.07,319.93 L434.81,319.93 L435.56,319.93 L436.30,319.93 L437.05,319.93 L437.79,319.93 L438.54,319.93 L439.29,319.93 L440.04,319.93 L440.79,319.93 L441.54,319.93 L442.29,319.93 L443.04,319.93 L443.79,319.93 L444.55,319.93 L445.30,319.93 L446.06,319.93 L446.81,319.93 L447.57,319.93 L448.33,319.93 L449.09,319.92 L449.85,319.92 L450.61,319.92 L451.37,319.92 L452.13,319.92 L452.90,319.92 L453.66,319.92 L454.43,319.92 L455.19,319.92 L455.96,319.92 L456.73,319.92 L457.49,319.92 L458.26,319.92 L459.03,319.92 L459.80,319.92 L460.58,319.92 L461.35,319.92 L462.12,319.92 L462.90,319.92 L463.67,319.92 L464.45,319.92 L465.22,319.92 L466.00,319.92 L466.78,319.92 L467.56,319.92 L468.34,319.92 L469.12,319.92 L469.90,319.92 L470.69,319.92 L471.47,319.92 L472.25,319.92 L473.04,319.92 L473.83,319.92 L474.61,319.92 L475.40,319.92 L476.19,319.92 L476.98,319.92 L477.77,319.92 L478.56,319.92 L479.35,319.92 L480.14,319.92 L480.94,319.92 L481.73,319.92 L482.53,319.92 L483.32,319.92 L484.12,319.92 L484.92,319.92 L485.72,319.92 L486.52,319.92 L487.32,319.92 L488.12,319.92 L488.92,319.92 L489.72,319.92 L490.53,319.92 L491.33,319.92 L492.14,319.92 L492.94,319.92 L493.75,319.92 L494.56,319.92 L495.37,319.92 L496.18,319.92 L496.99,319.92 L497.80,319.92 L498.61,319.92 L499.43,319.92 L500.24,319.92 L501.05,319.92 L501.87,319.92 L502.69,319.92 L503.50,319.92 L504.32,319.92 L505.14,319.92 L505.96,319.92 L506.78,319.92 L507.60,319.92 L508.42,319.92 L509.25,319.92 L510.07,319.92 L510.90,319.92 L511.72,319.92 L512.55,319.92 L513.38,319.92 L514.20,319.92 L515.03,319.92 L515.86,319.92 L516.69,319.91 L517.53,319.91 L518.36,319.91 L519.19,319.91 L520.03,319.91 L520.86,319.91 L521.70,319.91 L522.53,319.91 L523.37,319.91 L524.21,319.91 L525.05,319.91 L525.89,319.91 L526.73,319.91 L527.57,319.91 L528.41,319.91 L529.26,319.91 L530.10,319.91 L530.95,319.91 L531.79,319.91 L532.64,319.91 L533.49,319.91 L534.34,319.91 L535.19,319.91 L536.04,319.91 L536.89,319.91 L537.74,319.91 L538.59,319.91 L539.45,319.91 L540.30,319.91 L541.16,319.91 L542.01,319.91 L542.87,319.91 L543.73,319.91 L544.58,319.91 L545.44,319.91 L546.30,319.91 L547.17,319.91 L548.03,319.91 L548.89,319.91 L549.75,319.91 L550.62,319.91 L551.48,319.91 L552.35,319.91 L553.22,319.91 L554.09,319.91 L554.95,319.91 L555.82,319.91 L556.69,319.91 L557.57,319.91 L558.44,319.91 L559.31,319.91 L560.18,319.91 L561.06,319.91 L561.93,319.91 L562.81,319.91 L563.69,319.91 L564.57,319.91 L565.45,319.91 L566.33,319.91 L567.21,319.91 L568.09,319.91 L568.97,319.91 L569.85,319.91 L570.74,319.91 L571.62,319.91 L572.51,319.91 L573.39,319.91 L574.28,319.91 L575.17,319.91 L576.06,319.91 L576.95,319.91 L577.84,319.91 L578.73,319.91 L579.62,319.91 L580.52,319.91 L581.41,319.91 L582.31,319.91 L583.20,319.91 L584.10,319.91 L584.99,319.91 L585.89,319.91 L586.79,319.91 L587.69,319.91 L588.59,319.91 L589.49,319.91 L590.40,319.91 L591.30,319.91 L592.21,319.91 L593.11,319.91 L594.02,319.91 L594.92,319.91 L595.83,319.91 L596.74,319.91 L597.65,319.91 L598.56,319.91 L599.47,319.91 L600.38,319.91 L601.29,319.91 L602.21,319.91 L603.12,319.91 L604.04,319.91 L604.95,319.91 L605.87,319.91 L606.79,319.91 L607.71,319.91 L608.63,319.91 L609.55,319.91 L610.47,319.91 L611.39,319.91 L612.31,319.91 L613.23,319.91 L614.16,319.91 L615.08,319.91 L616.01,319.91 L616.94,319.91 L617.87,319.91 L618.79,319.91 L619.72,319.91 L620.65,319.91 L621.59,319.91 L622.52,319.91 L623.45,319.91 L624.38,319.91 L625.32,319.91 L626.25,319.91 L627.19,319.91 L628.13,319.91 L629.07,319.91 L630.00,319.91 L630.94,319.91 L631.88,319.91 L632.83,319.91 L633.77,319.91 L634.71,319.91 L635.66,319.91 L636.60,319.91 L637.55,319.91 L638.49,319.91 L639.44,319.91 L640.39,319.91 L641.34,319.91 L642.29,319.91 L643.24,319.91 L644.19,319.91 L645.14,319.91 L646.09,319.91 L647.05,319.91 L648.00,319.91 L648.96,319.91 L649.91,319.91 L650.87,319.91 L651.83,319.91 L652.79,319.91 L653.75,319.91 L654.71,319.91 L655.67,319.91 L656.63,319.91 L657.60,319.91 L658.56,319.91 L659.53,319.91 L660.49,319.91 L661.46,319.91 L662.43,319.91 L663.39,319.91 L664.36,319.91 L665.33,319.91 L666.31,319.91 L667.28,319.91 L668.25,319.91 L669.22,319.91 L670.20,319.91 L671.17,319.91 L672.15,319.91 L673.12,319.91 L674.10,319.91 L675.08,319.91 L676.06,319.91 L677.04,319.91 L678.02,319.91 L679.00,319.91 L679.99,319.91 L680.97,319.91 L681.95,319.91 L682.94,319.91 L683.93,319.91 L684.91,319.91 L685.90,319.91 L686.89,319.91 L687.88,319.91 L688.87,319.91 L689.86,319.91 L690.85,319.91 L691.84,319.91 L692.84,319.91 L693.83,319.91 L694.83,319.91 L695.82,319.91 L696.82,319.91 L697.82,319.91 L698.82,319.91 L699.82,319.91 L700.82,319.91 L701.82,319.91 L702.82,319.91 L703.82,319.91 L704.83,319.91 L705.83,319.91 L706.84,319.90 L707.84,319.90 L708.85,319.90 L709.86,319.90 L710.87,319.90 L711.88,319.90 L712.89,319.90 L713.90,319.90" stroke="#7a1a7e" stroke-width="2.5" stroke-dasharray="5.8 1.568" stroke-dashoffset="1.2"/>
<path d="M102.44,422.00 L102.44,421.99 L102.45,421.94 L102.45,421.86 L102.45,421.76 L102.45,421.62 L102.46,421.45 L102.46,421.26 L102.47,421.03 L102.48,420.77 L102.49,420.48 L102.49,420.17 L102.50,419.82 L102.52,419.45 L102.53,419.04 L102.54,418.61 L102.55,418.15 L102.57,417.66 L102.58,417.14 L102.60,416.60 L102.61,416.03 L102.63,415.43 L102.65,414.80 L102.67,414.15 L102.69,413.48 L102.71,412.77 L102.73,412.05 L102.75,411.30 L102.78,410.52 L102.80,409.72 L102.83,408.90 L102.85,408.06 L102.88,407.19 L102.91,406.31 L102.94,405.40 L102.96,404.47 L102.99,403.52 L103.03,402.55 L103.06,401.57 L103.09,400.56 L103.12,399.54 L103.16,398.50 L103.19,397.45 L103.23,396.37 L103.27,395.28 L103.30,394.18 L103.34,393.07 L103.38,391.93 L103.42,390.79 L103.46,389.63 L103.51,388.47 L103.55,387.29 L103.59,386.10 L103.64,384.90 L103.68,383.69 L103.73,382.47 L103.78,381.24 L103.83,380.00 L103.87,378.76 L103.92,377.51 L103.97,376.26 L104.03,375.00 L104.08,373.73 L104.13,372.46 L104.19,371.19 L104.24,369.91 L104.30,368.63 L104.35,367.35 L104.41,366.06 L104.47,364.78 L104.53,363.49 L104.59,362.21 L104.65,360.92 L104.71,359.64 L104.77,358.35 L104.84,357.07 L104.90,355.79 L104.97,354.52 L105.03,353.24 L105.10,351.97 L105.17,350.71 L105.23,349.45 L105.30,348.19 L105.37,346.94 L105.44,345.69 L105.52,344.46 L105.59,343.22 L105.66,342.00 L105.74,340.78 L105.81,339.57 L105.89,338.36 L105.97,337.17 L106.04,335.98 L106.12,334.81 L106.20,333.64 L106.28,332.48 L106.36,331.33 L106.45,330.19 L106.53,329.06 L106.61,327.94 L106.70,326.83 L106.78,325.74 L106.87,324.65 L106.96,323.58 L107.04,322.51 L107.13,321.46 L107.22,320.42 L107.31,319.40 L107.40,318.38 L107.50,317.38 L107.59,316.39 L107.68,315.41 L107.78,314.45 L107.87,313.50 L107.97,312.56 L108.07,311.64 L108.17,310.73 L108.27,309.83 L108.37,308.94 L108.47,308.07 L108.57,307.22 L108.67,306.37 L108.77,305.55 L108.88,304.73 L108.98,303.93 L109.09,303.14 L109.20,302.37 L109.30,301.61 L109.41,300.86 L109.52,300.13 L109.63,299.41 L109.74,298.71 L109.85,298.02 L109.97,297.35 L110.08,296.68 L110.20,296.04 L110.31,295.40 L110.43,294.79 L110.54,294.18 L110.66,293.59 L110.78,293.01 L110.90,292.45 L111.02,291.90 L111.14,291.36 L111.26,290.84 L111.39,290.33 L111.51,289.84 L111.63,289.35 L111.76,288.89 L111.89,288.43 L112.01,287.99 L112.14,287.56 L112.27,287.14 L112.40,286.74 L112.53,286.35 L112.66,285.98 L112.79,285.61 L112.93,285.26 L113.06,284.92 L113.20,284.60 L113.33,284.28 L113.47,283.98 L113.61,283.69 L113.74,283.42 L113.88,283.15 L114.02,282.90 L114.16,282.66 L114.31,282.43 L114.45,282.21 L114.59,282.01 L114.74,281.81 L114.88,281.63 L115.03,281.46 L115.17,281.29 L115.32,281.14 L115.47,281.00 L115.62,280.88 L115.77,280.76 L115.92,280.65 L116.07,280.55 L116.22,280.47 L116.38,280.39 L116.53,280.32 L116.69,280.27 L116.84,280.22 L117.00,280.18 L117.16,280.15 L117.32,280.14 L117.48,280.13 L117.64,280.13 L117.80,280.14 L117.96,280.16 L118.12,280.18 L118.29,280.22 L118.45,280.26 L118.62,280.32 L118.78,280.38 L118.95,280.45 L119.12,280.53 L119.29,280.62 L119.46,280.71 L119.63,280.81 L119.80,280.92 L119.97,281.04 L120.14,281.17 L120.32,281.30 L120.49,281.44 L120.67,281.59 L120.84,281.75 L121.02,281.91 L121.20,282.08 L121.38,282.25 L121.56,282.44 L121.74,282.63 L121.92,282.82 L122.10,283.02 L122.29,283.23 L122.47,283.45 L122.66,283.67 L122.84,283.90 L123.03,284.13 L123.22,284.37 L123.41,284.61 L123.59,284.86 L123.78,285.12 L123.98,285.38 L124.17,285.65 L124.36,285.92 L124.55,286.20 L124.75,286.48 L124.94,286.77 L125.14,287.06 L125.34,287.36 L125.53,287.66 L125.73,287.97 L125.93,288.28 L126.13,288.60 L126.33,288.92 L126.54,289.24 L126.74,289.57 L126.94,289.91 L127.15,290.24 L127.35,290.59 L127.56,290.93 L127.77,291.28 L127.97,291.63 L128.18,291.99 L128.39,292.35 L128.60,292.72 L128.81,293.08 L129.03,293.45 L129.24,293.83 L129.45,294.21 L129.67,294.59 L129.88,294.97 L130.10,295.36 L130.32,295.75 L130.54,296.14 L130.76,296.54 L130.98,296.94 L131.20,297.34 L131.42,297.74 L131.64,298.15 L131.86,298.56 L132.09,298.97 L132.31,299.39 L132.54,299.80 L132.76,300.22 L132.99,300.64 L133.22,301.07 L133.45,301.49 L133.68,301.92 L133.91,302.35 L134.14,302.78 L134.38,303.22 L134.61,303.65 L134.84,304.09 L135.08,304.53 L135.31,304.97 L135.55,305.41 L135.79,305.85 L136.03,306.30 L136.27,306.75 L136.51,307.20 L136.75,307.64 L136.99,308.10 L137.23,308.55 L137.48,309.00 L137.72,309.46 L137.97,309.91 L138.21,310.37 L138.46,310.83 L138.71,311.28 L138.96,311.74 L139.21,312.20 L139.46,312.67 L139.71,313.13 L139.96,313.59 L140.21,314.05 L140.47,314.52 L140.72,314.98 L140.98,315.45 L141.24,315.92 L141.49,316.38 L141.75,316.85 L142.01,317.32 L142.27,317.79 L142.53,318.25 L142.79,318.72 L143.05,319.19 L143.32,319.66 L143.58,320.13 L143.85,320.60 L144.11,321.07 L144.38,321.54 L144.65,322.01 L144.92,322.48 L145.18,322.95 L145.45,323.42 L145.73,323.89 L146.00,324.36 L146.27,324.83 L146.54,325.29 L146.82,325.76 L147.09,326.23 L147.37,326.70 L147.65,327.17 L147.92,327.64 L148.20,328.10 L148.48,328.57 L148.76,329.04 L149.04,329.50 L149.33,329.97 L149.61,330.43 L149.89,330.90 L150.18,331.36 L150.46,331.83 L150.75,332.29 L151.03,332.75 L151.32,333.21 L151.61,333.67 L151.90,334.13 L152.19,334.59 L152.48,335.05 L152.78,335.51 L153.07,335.97 L153.36,336.42 L153.66,336.88 L153.95,337.33 L154.25,337.79 L154.55,338.24 L154.84,338.69 L155.14,339.14 L155.44,339.59 L155.74,340.04 L156.05,340.49 L156.35,340.93 L156.65,341.38 L156.96,341.82 L157.26,342.26 L157.57,342.71 L157.87,343.15 L158.18,343.59 L158.49,344.02 L158.80,344.46 L159.11,344.90 L159.42,345.33 L159.73,345.76 L160.04,346.20 L160.36,346.63 L160.67,347.06 L160.99,347.48 L161.30,347.91 L161.62,348.33 L161.94,348.76 L162.26,349.18 L162.58,349.60 L162.90,350.02 L163.22,350.44 L163.54,350.85 L163.86,351.27 L164.18,351.68 L164.51,352.09 L164.83,352.50 L165.16,352.91 L165.49,353.32 L165.82,353.73 L166.14,354.13 L166.47,354.53 L166.80,354.93 L167.14,355.33 L167.47,355.73 L167.80,356.12 L168.14,356.52 L168.47,356.91 L168.81,357.30 L169.14,357.69 L169.48,358.08 L169.82,358.46 L170.16,358.85 L170.50,359.23 L170.84,359.61 L171.18,359.99 L171.52,360.36 L171.86,360.74 L172.21,361.11 L172.55,361.48 L172.90,361.85 L173.25,362.22 L173.59,362.58 L173.94,362.95 L174.29,363.31 L174.64,363.67 L174.99,364.03 L175.34,364.38 L175.70,364.74 L176.05,365.09 L176.40,365.44 L176.76,365.79 L177.11,366.14 L177.47,366.48 L177.83,366.82 L178.19,367.16 L178.55,367.50 L178.91,367.84 L179.27,368.17 L179.63,368.51 L179.99,368.84 L180.36,369.17 L180.72,369.49 L181.09,369.82 L181.45,370.14 L181.82,370.46 L182.19,370.78 L182.56,371.10 L182.93,371.41 L183.30,371.72 L183.67,372.03 L184.04,372.34 L184.41,372.65 L184.79,372.95 L185.16,373.26 L185.54,373.56 L185.91,373.85 L186.29,374.15 L186.67,374.44 L187.05,374.74 L187.43,375.03 L187.81,375.31 L188.19,375.60 L188.57,375.88 L188.96,376.16 L189.34,376.44 L189.73,376.72 L190.11,377.00 L190.50,377.27 L190.89,377.54 L191.27,377.81 L191.66,378.08 L192.05,378.34 L192.44,378.60 L192.84,378.87 L193.23,379.12 L193.62,379.38 L194.02,379.63 L194.41,379.89 L194.81,380.14 L195.20,380.38 L195.60,380.63 L196.00,380.87 L196.40,381.11 L196.80,381.35 L197.20,381.59 L197.60,381.83 L198.01,382.06 L198.41,382.29 L198.81,382.52 L199.22,382.75 L199.62,382.97 L200.03,383.19 L200.44,383.41 L200.85,383.63 L201.26,383.85 L201.67,384.06 L202.08,384.27 L202.49,384.48 L202.90,384.69 L203.32,384.90 L203.73,385.10 L204.15,385.30 L204.57,385.50 L204.98,385.70 L205.40,385.89 L205.82,386.08 L206.24,386.28 L206.66,386.46 L207.08,386.65 L207.50,386.84 L207.93,387.02 L208.35,387.20 L208.78,387.38 L209.20,387.55 L209.63,387.73 L210.06,387.90 L210.48,388.07 L210.91,388.24 L211.34,388.40 L211.77,388.57 L212.21,388.73 L212.64,388.89 L213.07,389.05 L213.51,389.20 L213.94,389.36 L214.38,389.51 L214.81,389.66 L215.25,389.80 L215.69,389.95 L216.13,390.09 L216.57,390.23 L217.01,390.37 L217.45,390.51 L217.90,390.65 L218.34,390.78 L218.78,390.91 L219.23,391.04 L219.68,391.17 L220.12,391.29 L220.57,391.42 L221.02,391.54 L221.47,391.66 L221.92,391.78 L222.37,391.89 L222.82,392.00 L223.28,392.12 L223.73,392.23 L224.18,392.33 L224.64,392.44 L225.10,392.54 L225.55,392.65 L226.01,392.75 L226.47,392.84 L226.93,392.94 L227.39,393.04 L227.85,393.13 L228.31,393.22 L228.78,393.31 L229.24,393.39 L229.71,393.48 L230.17,393.56 L230.64,393.64 L231.11,393.72 L231.57,393.80 L232.04,393.88 L232.51,393.95 L232.98,394.02 L233.46,394.09 L233.93,394.16 L234.40,394.23 L234.88,394.29 L235.35,394.36 L235.83,394.42 L236.30,394.48 L236.78,394.54 L237.26,394.59 L237.74,394.65 L238.22,394.70 L238.70,394.75 L239.18,394.80 L239.67,394.85 L240.15,394.89 L240.63,394.94 L241.12,394.98 L241.60,395.02 L242.09,395.06 L242.58,395.09 L243.07,395.13 L243.56,395.16 L244.05,395.20 L244.54,395.23 L245.03,395.26 L245.52,395.28 L246.02,395.31 L246.51,395.33 L247.01,395.36 L247.51,395.38 L248.00,395.40 L248.50,395.42 L249.00,395.43 L249.50,395.45 L250.00,395.46 L250.50,395.47 L251.00,395.48 L251.51,395.49 L252.01,395.50 L252.52,395.50 L253.02,395.51 L253.53,395.51 L254.04,395.51 L254.54,395.51 L255.05,395.51 L255.56,395.51 L256.07,395.50 L256.59,395.50 L257.10,395.49 L257.61,395.48 L258.13,395.47 L258.64,395.46 L259.16,395.44 L259.67,395.43 L260.19,395.41 L260.71,395.39 L261.23,395.38 L261.75,395.35 L262.27,395.33 L262.79,395.31 L263.31,395.29 L263.84,395.26 L264.36,395.24 L264.89,395.21 L265.41,395.18 L265.94,395.15 L266.47,395.12 L267.00,395.09 L267.53,395.05 L268.06,395.02 L268.59,394.99 L269.12,394.95 L269.65,394.91 L270.19,394.87 L270.72,394.83 L271.26,394.79 L271.79,394.75 L272.33,394.71 L272.87,394.67 L273.41,394.62 L273.95,394.58 L274.49,394.53 L275.03,394.48 L275.57,394.43 L276.12,394.38 L276.66,394.33 L277.20,394.28 L277.75,394.22 L278.30,394.17 L278.84,394.11 L279.39,394.06 L279.94,394.00 L280.49,393.94 L281.04,393.88 L281.59,393.82 L282.15,393.76 L282.70,393.69 L283.25,393.63 L283.81,393.56 L284.36,393.50 L284.92,393.43 L285.48,393.36 L286.04,393.29 L286.60,393.22 L287.16,393.15 L287.72,393.08 L288.28,393.00 L288.84,392.93 L289.41,392.85 L289.97,392.77 L290.54,392.69 L291.10,392.62 L291.67,392.54 L292.24,392.45 L292.81,392.37 L293.37,392.29 L293.94,392.21 L294.52,392.12 L295.09,392.04 L295.66,391.95 L296.23,391.86 L296.81,391.78 L297.39,391.69 L297.96,391.60 L298.54,391.51 L299.12,391.42 L299.70,391.32 L300.28,391.23 L300.86,391.14 L301.44,391.04 L302.02,390.95 L302.60,390.85 L303.19,390.76 L303.77,390.66 L304.36,390.56 L304.94,390.46 L305.53,390.36 L306.12,390.26 L306.71,390.16 L307.30,390.06 L307.89,389.96 L308.48,389.85 L309.07,389.75 L309.67,389.65 L310.26,389.54 L310.86,389.43 L311.45,389.33 L312.05,389.22 L312.65,389.11 L313.24,389.00 L313.84,388.90 L314.44,388.79 L315.04,388.68 L315.65,388.56 L316.25,388.45 L316.85,388.34 L317.46,388.23 L318.06,388.11 L318.67,388.00 L319.28,387.88 L319.88,387.77 L320.49,387.65 L321.10,387.54 L321.71,387.42 L322.32,387.30 L322.94,387.18 L323.55,387.06 L324.16,386.94 L324.78,386.82 L325.39,386.70 L326.01,386.58 L326.63,386.46 L327.24,386.34 L327.86,386.21 L328.48,386.09 L329.10,385.97 L329.72,385.84 L330.35,385.72 L330.97,385.59 L331.59,385.47 L332.22,385.34 L332.84,385.21 L333.47,385.08 L334.10,384.96 L334.73,384.83 L335.35,384.70 L335.98,384.57 L336.62,384.44 L337.25,384.31 L337.88,384.18 L338.51,384.05 L339.15,383.91 L339.78,383.78 L340.42,383.65 L341.05,383.52 L341.69,383.38 L342.33,383.25 L342.97,383.11 L343.61,382.98 L344.25,382.84 L344.89,382.71 L345.54,382.57 L346.18,382.43 L346.82,382.29 L347.47,382.16 L348.11,382.02 L348.76,381.88 L349.41,381.74 L350.06,381.60 L350.71,381.46 L351.36,381.32 L352.01,381.18 L352.66,381.04 L353.31,380.90 L353.97,380.76 L354.62,380.62 L355.28,380.48 L355.93,380.33 L356.59,380.19 L357.25,380.05 L357.91,379.91 L358.57,379.77 L359.23,379.62 L359.89,379.48 L360.55,379.34 L361.21,379.19 L361.88,379.05 L362.54,378.91 L363.21,378.76 L363.88,378.62 L364.54,378.47 L365.21,378.33 L365.88,378.18 L366.55,378.04 L367.22,377.89 L367.89,377.75 L368.57,377.60 L369.24,377.46 L369.91,377.31 L370.59,377.17 L371.26,377.02 L371.94,376.88 L372.62,376.73 L373.30,376.58 L373.98,376.44 L374.66,376.29 L375.34,376.14 L376.02,376.00 L376.70,375.85 L377.38,375.70 L378.07,375.56 L378.75,375.41 L379.44,375.26 L380.13,375.11 L380.81,374.97 L381.50,374.82 L382.19,374.67 L382.88,374.52 L383.57,374.37 L384.27,374.23 L384.96,374.08 L385.65,373.93 L386.35,373.78 L387.04,373.63 L387.74,373.48 L388.44,373.34 L389.13,373.19 L389.83,373.04 L390.53,372.89 L391.23,372.74 L391.93,372.59 L392.64,372.44 L393.34,372.30 L394.04,372.15 L394.75,372.00 L395.45,371.85 L396.16,371.70 L396.87,371.55 L397.58,371.40 L398.29,371.25 L398.99,371.10 L399.71,370.95 L400.42,370.80 L401.13,370.65 L401.84,370.50 L402.56,370.35 L403.27,370.20 L403.99,370.06 L404.70,369.91 L405.42,369.76 L406.14,369.61 L406.86,369.46 L407.58,369.31 L408.30,369.16 L409.02,369.01 L409.75,368.86 L410.47,368.71 L411.19,368.56 L411.92,368.41 L412.64,368.26 L413.37,368.11 L414.10,367.96 L414.83,367.81 L415.56,367.66 L416.29,367.51 L417.02,367.36 L417.75,367.21 L418.48,367.06 L419.22,366.91 L419.95,366.76 L420.69,366.61 L421.42,366.46 L422.16,366.31 L422.90,366.16 L423.64,366.01 L424.38,365.86 L425.12,365.71 L425.86,365.56 L426.60,365.41 L427.34,365.26 L428.09,365.11 L428.83,364.96 L429.58,364.81 L430.32,364.66 L431.07,364.51 L431.82,364.37 L432.57,364.22 L433.32,364.07 L434.07,363.92 L434.82,363.77 L435.57,363.62 L436.33,363.47 L437.08,363.33 L437.84,363.18 L438.59,363.03 L439.35,362.88 L440.11,362.73 L440.86,362.59 L441.62,362.44 L442.38,362.29 L443.14,362.14 L443.91,362.00 L444.67,361.85 L445.43,361.70 L446.20,361.56 L446.96,361.41 L447.73,361.26 L448.49,361.12 L449.26,360.97 L450.03,360.83 L450.80,360.68 L451.57,360.53 L452.34,360.39 L453.11,360.24 L453.89,360.10 L454.66,359.95 L455.43,359.81 L456.21,359.67 L456.99,359.52 L457.76,359.38 L458.54,359.23 L459.32,359.09 L460.10,358.95 L460.88,358.81 L461.66,358.66 L462.44,358.52 L463.23,358.38 L464.01,358.24 L464.80,358.09 L465.58,357.95 L466.37,357.81 L467.15,357.67 L467.94,357.53 L468.73,357.39 L469.52,357.25 L470.31,357.11 L471.10,356.97 L471.90,356.83 L472.69,356.69 L473.48,356.55 L474.28,356.41 L475.07,356.27 L475.87,356.14 L476.67,356.00 L477.47,355.86 L478.27,355.72 L479.07,355.59 L479.87,355.45 L480.67,355.31 L481.47,355.18 L482.27,355.04 L483.08,354.91 L483.88,354.77 L484.69,354.64 L485.50,354.50 L486.30,354.37 L487.11,354.23 L487.92,354.10 L488.73,353.97 L489.54,353.83 L490.36,353.70 L491.17,353.57 L491.98,353.44 L492.80,353.31 L493.61,353.17 L494.43,353.04 L495.25,352.91 L496.06,352.78 L496.88,352.65 L497.70,352.52 L498.52,352.39 L499.34,352.26 L500.17,352.13 L500.99,352.00 L501.81,351.87 L502.64,351.75 L503.46,351.62 L504.29,351.49 L505.12,351.36 L505.94,351.23 L506.77,351.11 L507.60,350.98 L508.43,350.85 L509.27,350.73 L510.10,350.60 L510.93,350.48 L511.77,350.35 L512.60,350.23 L513.44,350.10 L514.27,349.98 L515.11,349.85 L515.95,349.73 L516.79,349.61 L517.63,349.48 L518.47,349.36 L519.31,349.24 L520.15,349.11 L521.00,348.99 L521.84,348.87 L522.69,348.75 L523.53,348.63 L524.38,348.51 L525.23,348.39 L526.08,348.27 L526.92,348.15 L527.77,348.03 L528.63,347.91 L529.48,347.79 L530.33,347.67 L531.18,347.55 L532.04,347.43 L532.89,347.32 L533.75,347.20 L534.61,347.08 L535.47,346.96 L536.32,346.85 L537.18,346.73 L538.04,346.62 L538.91,346.50 L539.77,346.39 L540.63,346.27 L541.49,346.16 L542.36,346.04 L543.22,345.93 L544.09,345.82 L544.96,345.70 L545.83,345.59 L546.70,345.48 L547.56,345.37 L548.44,345.26 L549.31,345.14 L550.18,345.03 L551.05,344.92 L551.93,344.81 L552.80,344.70 L553.68,344.59 L554.55,344.48 L555.43,344.37 L556.31,344.27 L557.19,344.16 L558.07,344.05 L558.95,343.94 L559.83,343.84 L560.71,343.73 L561.60,343.62 L562.48,343.52 L563.37,343.41 L564.25,343.31 L565.14,343.20 L566.03,343.10 L566.92,342.99 L567.81,342.89 L568.70,342.78 L569.59,342.68 L570.48,342.58 L571.37,342.47 L572.26,342.37 L573.16,342.27 L574.05,342.17 L574.95,342.07 L575.85,341.97 L576.75,341.86 L577.64,341.76 L578.54,341.66 L579.44,341.56 L580.35,341.46 L581.25,341.37 L582.15,341.27 L583.05,341.17 L583.96,341.07 L584.86,340.97 L585.77,340.87 L586.68,340.78 L587.59,340.68 L588.50,340.58 L589.41,340.49 L590.32,340.39 L591.23,340.30 L592.14,340.20 L593.05,340.11 L593.97,340.01 L594.88,339.92 L595.80,339.82 L596.71,339.73 L597.63,339.64 L598.55,339.54 L599.47,339.45 L600.39,339.36 L601.31,339.27 L602.23,339.17 L603.15,339.08 L604.08,338.99 L605.00,338.90 L605.93,338.81 L606.85,338.72 L607.78,338.63 L608.71,338.54 L609.64,338.45 L610.56,338.36 L611.50,338.27 L612.43,338.19 L613.36,338.10 L614.29,338.01 L615.22,337.92 L616.16,337.84 L617.09,337.75 L618.03,337.66 L618.97,337.58 L619.91,337.49 L620.84,337.41 L621.78,337.32 L622.72,337.24 L623.67,337.15 L624.61,337.07 L625.55,336.98 L626.49,336.90 L627.44,336.82 L628.38,336.73 L629.33,336.65 L630.28,336.57 L631.23,336.49 L632.17,336.40 L633.12,336.32 L634.08,336.24 L635.03,336.16 L635.98,336.08 L636.93,336.00 L637.89,335.92 L638.84,335.84 L639.80,335.76 L640.75,335.68 L641.71,335.60 L642.67,335.52 L643.63,335.44 L644.59,335.37 L645.55,335.29 L646.51,335.21 L647.47,335.13 L648.44,335.06 L649.40,334.98 L650.37,334.90 L651.33,334.83 L652.30,334.75 L653.27,334.68 L654.23,334.60 L655.20,334.53 L656.17,334.45 L657.15,334.38 L658.12,334.30 L659.09,334.23 L660.06,334.16 L661.04,334.08 L662.01,334.01 L662.99,333.94 L663.97,333.87 L664.94,333.79 L665.92,333.72 L666.90,333.65 L667.88,333.58 L668.86,333.51 L669.85,333.44 L670.83,333.37 L671.81,333.30 L672.80,333.23 L673.78,333.16 L674.77,333.09 L675.76,333.02 L676.74,332.95 L677.73,332.88 L678.72,332.82 L679.71,332.75 L680.71,332.68 L681.70,332.61 L682.69,332.55 L683.68,332.48 L684.68,332.41 L685.68,332.35 L686.67,332.28 L687.67,332.22 L688.67,332.15 L689.67,332.09 L690.67,332.02 L691.67,331.96 L692.67,331.89 L693.67,331.83 L694.67,331.76 L695.68,331.70 L696.68,331.64 L697.69,331.58 L698.70,331.51 L699.70,331.45 L700.71,331.39 L701.72,331.33 L702.73,331.27 L703.74,331.20 L704.75,331.14 L705.77,331.08 L706.78,331.02 L707.80,330.96 L708.81,330.90 L709.83,330.84 L710.84,330.79 L711.86,330.73 L712.88,330.67 L713.90,330.61" stroke="#231f20" stroke-width="2.7"/>
</g>
<g stroke="#231f20" stroke-width="1.4" fill="none">
<path d="M84.7,4.3 V421.9"/>
<path d="M71.6,421.2 H725.9"/>
</g>
<g stroke="#231f20" stroke-width="1.2" fill="none">
<path d="M84.7,400.77 h4.8"/>
<path d="M84.7,380.55 h4.8"/>
<path d="M84.7,360.34 h4.8"/>
<path d="M84.7,340.12 h4.8"/>
<path d="M84.7,319.90 h7.9"/>
<path d="M84.7,299.68 h4.8"/>
<path d="M84.7,279.46 h4.8"/>
<path d="M84.7,259.25 h4.8"/>
<path d="M84.7,239.03 h4.8"/>
<path d="M84.7,218.81 h7.9"/>
<path d="M84.7,198.59 h4.8"/>
<path d="M84.7,178.37 h4.8"/>
<path d="M84.7,158.16 h4.8"/>
<path d="M84.7,137.94 h4.8"/>
<path d="M84.7,117.72 h7.9"/>
<path d="M84.7,97.50 h4.8"/>
<path d="M84.7,77.28 h4.8"/>
<path d="M84.7,57.07 h4.8"/>
<path d="M84.7,36.85 h4.8"/>
<path d="M84.7,16.63 h7.9"/>
<path d="M109.74,421.2 v-4.6000000000000005"/>
<path d="M134.87,421.2 v-4.6000000000000005"/>
<path d="M160.01,421.2 v-4.6000000000000005"/>
<path d="M185.14,421.2 v-4.6000000000000005"/>
<path d="M210.28,421.2 v-7.6000000000000005"/>
<path d="M235.42,421.2 v-4.6000000000000005"/>
<path d="M260.55,421.2 v-4.6000000000000005"/>
<path d="M285.69,421.2 v-4.6000000000000005"/>
<path d="M310.82,421.2 v-4.6000000000000005"/>
<path d="M335.96,421.2 v-7.6000000000000005"/>
<path d="M361.10,421.2 v-4.6000000000000005"/>
<path d="M386.23,421.2 v-4.6000000000000005"/>
<path d="M411.37,421.2 v-4.6000000000000005"/>
<path d="M436.50,421.2 v-4.6000000000000005"/>
<path d="M461.64,421.2 v-7.6000000000000005"/>
<path d="M486.78,421.2 v-4.6000000000000005"/>
<path d="M511.91,421.2 v-4.6000000000000005"/>
<path d="M537.05,421.2 v-4.6000000000000005"/>
<path d="M562.18,421.2 v-4.6000000000000005"/>
<path d="M587.32,421.2 v-7.6000000000000005"/>
<path d="M612.46,421.2 v-4.6000000000000005"/>
<path d="M637.59,421.2 v-4.6000000000000005"/>
<path d="M662.73,421.2 v-4.6000000000000005"/>
<path d="M687.86,421.2 v-4.6000000000000005"/>
<path d="M713.00,421.2 v-7.6000000000000005"/>
</g>
</svg>
<svg width="747" height="479" viewBox="0 0 747 479" style="display:block;position:absolute;left:0;top:0;will-change:transform;opacity:0.999">
<g font-family="Liberation Sans, sans-serif" fill="#231f20">
<text transform="translate(48.79,23.95) scale(1.0146,1)" font-size="20.0" stroke="#231f20" stroke-width="0.3">30</text>
<text transform="translate(48.26,124.80) scale(1.0392,1)" font-size="20.0" stroke="#231f20" stroke-width="0.3">20</text>
<g transform="translate(48.41,225.60) scale(1.0320,1)" stroke="#231f20" stroke-width="0.3"><path d="M5.03,0.00 L5.03,-12.08 L1.92,-9.86 L1.92,-11.52 L5.18,-13.76 L6.80,-13.76 L6.80,0.00Z"/><text x="11.12" y="0" font-size="20.0">0</text></g>
<text transform="translate(59.53,324.20) scale(1.0833,1)" font-size="20.0" stroke="#231f20" stroke-width="0.3">0</text>
<g transform="translate(47.88,428.40) scale(1.0474,1)" stroke="#231f20" stroke-width="0.3"><path d="M5.03,0.00 L5.03,-12.08 L1.92,-9.86 L1.92,-11.52 L5.18,-13.76 L6.80,-13.76 L6.80,0.00Z"/><text x="11.12" y="0" font-size="20.0">0</text></g>
<text transform="translate(40.39,428.70) scale(1.1400,1)" font-size="20.0" stroke="#231f20" stroke-width="0.3">-</text>
<g transform="translate(193.89,448.30) scale(1.0187,1)" stroke="#231f20" stroke-width="0.3"><path d="M5.03,0.00 L5.03,-12.08 L1.92,-9.86 L1.92,-11.52 L5.18,-13.76 L6.80,-13.76 L6.80,0.00Z"/><text x="11.12" y="0" font-size="20.0">00</text></g>
<text transform="translate(319.27,448.30) scale(1.0285,1)" font-size="20.0" stroke="#231f20" stroke-width="0.3">200</text>
<text transform="translate(444.88,448.30) scale(1.0220,1)" font-size="20.0" stroke="#231f20" stroke-width="0.3">300</text>
<text transform="translate(570.28,448.30) scale(1.0404,1)" font-size="20.0" stroke="#231f20" stroke-width="0.3">400</text>
<text transform="translate(696.48,448.30) scale(1.0252,1)" font-size="20.0" stroke="#231f20" stroke-width="0.3">500</text>
<text transform="translate(264.79,472.30) scale(0.9854,1)" font-size="24.2" stroke="#231f20" stroke-width="0.2">Distance</text>
<text transform="translate(362.86,472.30) scale(1.1109,1)" font-size="24.2" stroke="#231f20" stroke-width="0.2">to</text>
<text transform="translate(390.98,472.30) scale(1.0719,1)" font-size="24.2" stroke="#231f20" stroke-width="0.2">the</text>
<text transform="translate(432.35,472.30) scale(1.0288,1)" font-size="24.2" stroke="#231f20" stroke-width="0.2">fiber</text>
<text transform="translate(487.04,472.30) scale(1.0063,1)" font-size="24.2" stroke="#231f20" stroke-width="0.2">(nm)</text>
<text transform="translate(38.10,328.27) rotate(-90) scale(1.0193,1)" font-size="24.2" stroke="#231f20" stroke-width="0.2">Potential</text>
<text transform="translate(38.10,227.44) rotate(-90) scale(1.0727,1)" font-size="24.2" stroke="#231f20" stroke-width="0.2">depth</text>
<text transform="translate(38.10,156.27) rotate(-90) scale(0.9439,1)" font-size="24.2" stroke="#231f20" stroke-width="0.2">(mK)</text>
</g>
</svg>
</body></html>
